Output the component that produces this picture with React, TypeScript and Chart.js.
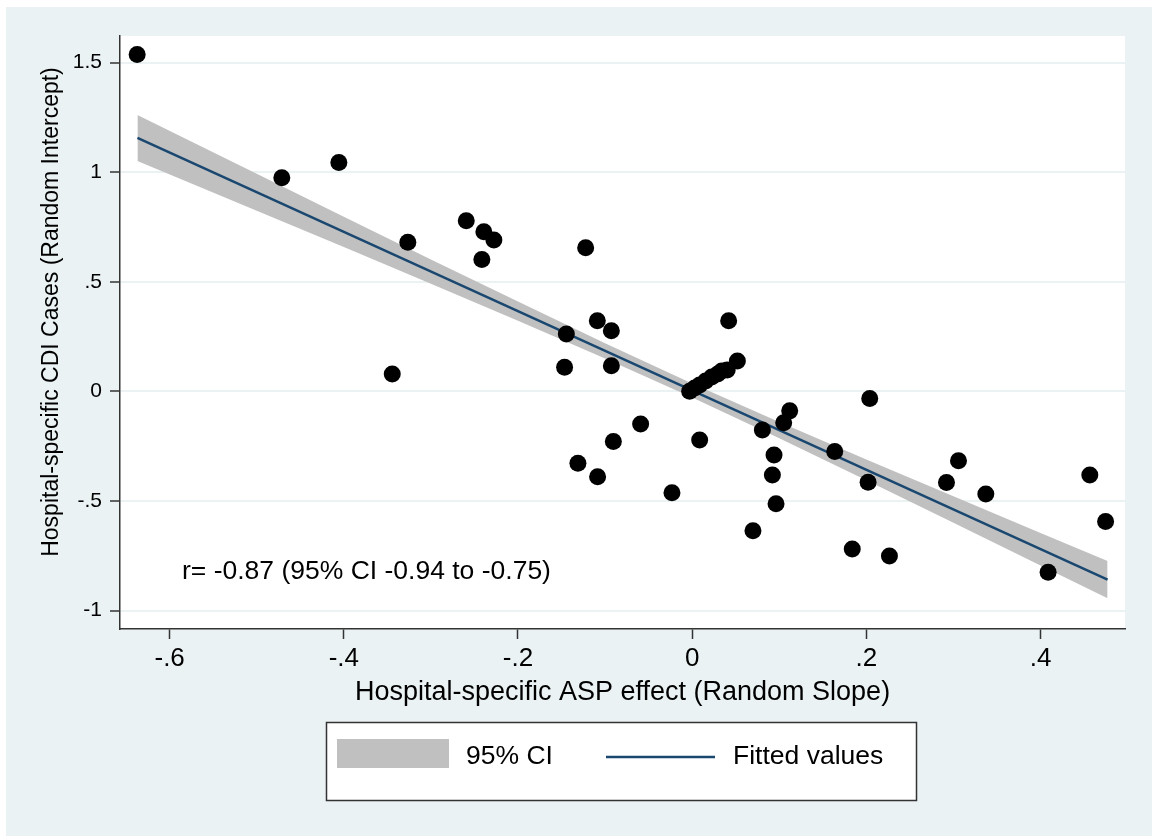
import React, { useEffect, useRef } from 'react';
import { Chart, registerables } from 'chart.js';

Chart.register(...registerables);

// ---- data ----
const slopeEffect = [
  -0.6373, -0.4712, -0.4057, -0.2594, -0.3265, -0.2392, -0.2277, -0.2415, -0.1223, -0.3444,
  -0.1445, -0.1465, -0.1089, -0.0928, -0.0928, -0.1312, -0.1086, -0.0905, -0.0592, -0.0232,
  0.0086, 0.0419, 0.0519, -0.0029, 0.0029, 0.0086, 0.0155, 0.0224, 0.0293, 0.0339,
  0.0402, 0.0806, 0.1120, 0.1051, 0.0940, 0.0921, 0.0963, 0.0698, 0.1637, 0.2039,
  0.2020, 0.1838, 0.2265, 0.2920, 0.3058, 0.3372, 0.4087, 0.4566, 0.4747,
];
const interceptEffect = [
  1.5365, 0.974, 1.044, 0.778, 0.680, 0.728, 0.690, 0.602, 0.655, 0.079,
  0.262, 0.110, 0.322, 0.277, 0.117, -0.328, -0.389, -0.229, -0.149, -0.462,
  -0.222, 0.322, 0.139, 0.000, 0.015, 0.029, 0.047, 0.066, 0.079, 0.093,
  0.098, -0.176, -0.089, -0.143, -0.290, -0.381, -0.513, -0.636, -0.274, -0.033,
  -0.415, -0.719, -0.751, -0.416, -0.317, -0.468, -0.825, -0.381, -0.594,
];
const fitX = [-0.637, 0.477];
const fitY = [1.156, -0.859];
const bandX = [-0.637, -0.5, -0.4, -0.3, -0.2, -0.1, 0, 0.1, 0.2, 0.3, 0.4, 0.477];
const bandUpper = [1.261, 0.993, 0.797, 0.602, 0.410, 0.220, 0.036, -0.140, -0.311, -0.479, -0.646, -0.774];
const bandLower = [1.051, 0.824, 0.658, 0.491, 0.322, 0.150, -0.028, -0.214, -0.405, -0.599, -0.794, -0.944];
const xTickValues = [-0.6, -0.4, -0.2, 0, 0.2, 0.4];
const xTickLabels = ['-.6', '-.4', '-.2', '0', '.2', '.4'];
const yTickValues = [-1, -0.5, 0, 0.5, 1, 1.5];
const yTickLabels = ['-1', '-.5', '0', '.5', '1', '1.5'];
const xTitle = 'Hospital-specific ASP effect (Random Slope)';
const yTitle = 'Hospital-specific CDI Cases (Random Intercept)';
const annotationText = 'r= -0.87 (95% CI -0.94 to -0.75)';
const annotationAt = [-0.374, -0.823];
const legendLabels = ['95% CI', 'Fitted values'];

// ---- style ----
const W = 1152;
const H = 836;
const FONT = '"Liberation Sans", Arial, Helvetica, sans-serif';
const BG = '#eaf2f3';
const GRID = '#eaf2f3';
const AXIS = '#333333';
const BAND = '#c0c0c0';
const FIT = '#1a476f';

function labelFor(values: number[], labels: string[], v: number) {
  const i = values.findIndex((t) => Math.abs(t - v) < 1e-9);
  return i >= 0 ? labels[i] : '';
}

const decor = {
  id: 'decor',
  beforeDraw(chart: any) {
    const ctx = chart.ctx;
    const { left, top, right, bottom } = chart.chartArea;
    ctx.save();
    ctx.fillStyle = '#ffffff';
    ctx.fillRect(0, 0, chart.width, chart.height);
    ctx.fillStyle = BG;
    ctx.fillRect(6, 7, chart.width - 6, chart.height - 7);
    ctx.fillStyle = '#ffffff';
    ctx.fillRect(left, top, right - left, bottom - top);
    ctx.restore();
  },
  afterDraw(chart: any) {
    const ctx = chart.ctx;
    const { left, right } = chart.chartArea;
    const xs = chart.scales.x;
    const ys = chart.scales.y;
    ctx.save();
    ctx.fillStyle = '#000000';
    ctx.textBaseline = 'middle';
    // x title
    ctx.font = `27px ${FONT}`;
    ctx.textAlign = 'center';
    ctx.fillText(xTitle, (left + right) / 2, 693);
    // y title
    ctx.save();
    ctx.translate(52, 312);
    ctx.rotate(-Math.PI / 2);
    ctx.font = `23px ${FONT}`;
    ctx.fillText(yTitle, 0, 0);
    ctx.restore();
    // annotation
    ctx.font = `26.5px ${FONT}`;
    ctx.textAlign = 'center';
    ctx.fillText(annotationText, xs.getPixelForValue(annotationAt[0]), ys.getPixelForValue(annotationAt[1]));
    // legend
    const lx = 326.5, ly = 722.5, lw = 590, lh = 78;
    ctx.fillStyle = '#ffffff';
    ctx.fillRect(lx, ly, lw, lh);
    ctx.strokeStyle = AXIS;
    ctx.lineWidth = 1.5;
    ctx.strokeRect(lx, ly, lw, lh);
    ctx.fillStyle = BAND;
    ctx.fillRect(337, 739, 112, 29);
    ctx.strokeStyle = FIT;
    ctx.lineWidth = 2.5;
    ctx.beginPath();
    ctx.moveTo(606, 757);
    ctx.lineTo(715, 757);
    ctx.stroke();
    ctx.fillStyle = '#000000';
    ctx.font = `26.5px ${FONT}`;
    ctx.textAlign = 'left';
    ctx.fillText(legendLabels[0], 466, 757);
    ctx.fillText(legendLabels[1], 733, 757);
    ctx.restore();
  },
};

export default function App() {
  const ref = useRef<HTMLCanvasElement | null>(null);
  useEffect(() => {
    if (!ref.current) return;
    const chart = new Chart(ref.current, {
      type: 'scatter',
      data: {
        datasets: [
          {
            type: 'line',
            label: 'upper',
            data: bandX.map((x, i) => ({ x, y: bandUpper[i] })),
            borderWidth: 0,
            borderColor: 'rgba(0,0,0,0)',
            backgroundColor: BAND,
            pointRadius: 0,
            fill: '+1',
            tension: 0,
            order: 3,
          } as any,
          {
            type: 'line',
            label: 'lower',
            data: bandX.map((x, i) => ({ x, y: bandLower[i] })),
            borderWidth: 0,
            borderColor: 'rgba(0,0,0,0)',
            backgroundColor: BAND,
            pointRadius: 0,
            fill: false,
            tension: 0,
            order: 3,
          } as any,
          {
            type: 'line',
            label: 'Fitted values',
            data: fitX.map((x, i) => ({ x, y: fitY[i] })),
            borderWidth: 2.5,
            borderColor: FIT,
            pointRadius: 0,
            fill: false,
            order: 2,
          } as any,
          {
            type: 'scatter',
            label: 'points',
            data: slopeEffect.map((x, i) => ({ x, y: interceptEffect[i] })),
            pointRadius: 8.5,
            pointBackgroundColor: '#000000',
            pointBorderWidth: 0,
            borderColor: '#000000',
            order: 1,
          } as any,
        ],
      },
      options: {
        responsive: false,
        animation: false,
        devicePixelRatio: 1,
        layout: { padding: { left: 0, top: 36, right: 27, bottom: 0 } },
        plugins: { legend: { display: false }, tooltip: { enabled: false }, title: { display: false } },
        scales: {
          x: {
            type: 'linear',
            min: -0.657,
            max: 0.497,
            afterBuildTicks: (s: any) => {
              s.ticks = xTickValues.map((v) => ({ value: v }));
            },
            afterFit: (s: any) => {
              s.height = H - 629;
            },
            ticks: {
              autoSkip: false,
              maxRotation: 0,
              padding: 4,
              color: '#000000',
              font: { family: FONT, size: 26 },
              callback: (v: any) => labelFor(xTickValues, xTickLabels, Number(v)),
            },
            grid: { drawOnChartArea: false, drawTicks: true, tickLength: 10, tickColor: AXIS, tickWidth: 1.5 },
            border: { display: true, color: AXIS, width: 1.5 },
          },
          y: {
            type: 'linear',
            min: -1.084,
            max: 1.621,
            afterBuildTicks: (s: any) => {
              s.ticks = yTickValues.map((v) => ({ value: v }));
            },
            afterFit: (s: any) => {
              s.width = 120;
            },
            ticks: {
              autoSkip: false,
              padding: 8,
              color: '#000000',
              font: { family: FONT, size: 21 },
              callback: (v: any) => labelFor(yTickValues, yTickLabels, Number(v)),
            },
            grid: { drawOnChartArea: true, color: GRID, lineWidth: 2, drawTicks: true, tickLength: 10, tickColor: AXIS, tickWidth: 1.5 },
            border: { display: true, color: AXIS, width: 1.5 },
          },
        },
      },
      plugins: [decor],
    });
    return () => chart.destroy();
  }, []);
  return (
    <div style={{ position: 'absolute', left: 0, top: 0, width: W, height: H }}>
      <canvas ref={ref} width={W} height={H} style={{ display: 'block', width: W, height: H }} />
    </div>
  );
}
